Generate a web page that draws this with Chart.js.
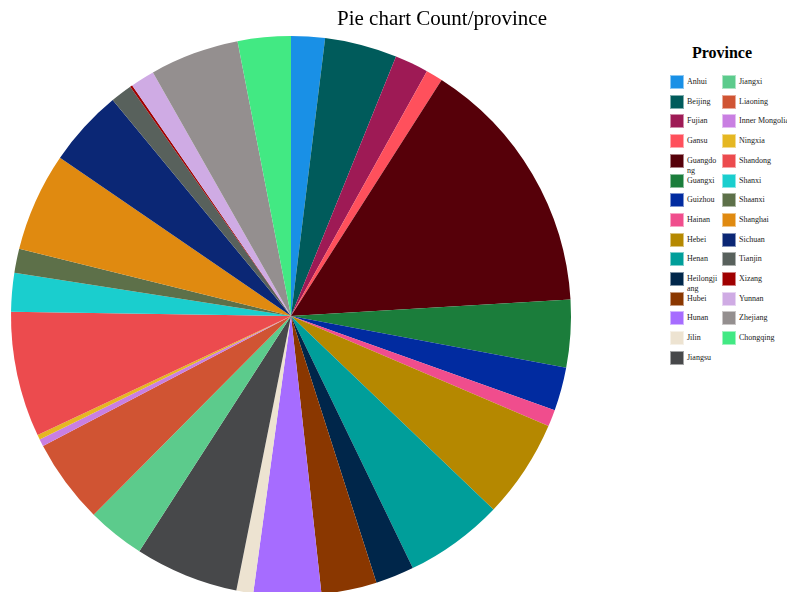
<!DOCTYPE html>
<html lang="en">
<head>
    <meta charset="UTF-8">
    <title>Pie chart Count/province</title>
    <script src="https://cdn.jsdelivr.net/npm/chart.js"></script>
    <style>
        body { margin: 0; width: 787px; height: 592px; overflow: hidden; background: #fff; position: relative; font-family: "Liberation Serif", "DejaVu Serif", serif; }
        #pieChart { position: absolute; left: 0; top: 0; }
        #title { position: absolute; left: 337px; top: 6px; font-size: 21px; color: #000; white-space: nowrap; }
        #legendTitle { position: absolute; left: 662px; width: 120px; top: 44px; text-align: center; font-size: 16px; font-weight: bold; }
        .box { position: absolute; width: 14px; height: 14px; box-sizing: border-box; border: 1px solid rgba(255,255,255,0.5); }
        .lbl { position: absolute; font-size: 8px; line-height: 10px; color: #222; }
    </style>
</head>
<body>
    <canvas id="pieChart" width="582" height="632"></canvas>
    <div id="title">Pie chart Count/province</div>
    <div id="legendTitle">Province</div>
    <div id="legend"></div>

    <script>
        // provinces in drawing order (clockwise from 12 o'clock)
        const provinces = ['Anhui', 'Beijing', 'Fujian', 'Gansu', 'Guangdong', 'Guangxi', 'Guizhou', 'Hainan',
            'Hebei', 'Henan', 'Heilongjiang', 'Hubei', 'Hunan', 'Jilin', 'Jiangsu', 'Jiangxi', 'Liaoning',
            'Inner Mongolia', 'Ningxia', 'Shandong', 'Shanxi', 'Shaanxi', 'Shanghai', 'Sichuan', 'Tianjin',
            'Xizang', 'Yunnan', 'Zhejiang', 'Chongqing'];
        const counts = [14, 30, 14, 7, 108, 28, 18, 7,
            41, 41, 16, 23, 28, 7, 43, 24, 35,
            3, 2, 52, 16, 10, 41, 32, 9,
            1, 10, 37, 22];
        const colors = ['#1990e6', '#005b5b', '#9e1a55', '#ff505c', '#560009', '#1b7d3b', '#012ba0', '#f04d8d',
            '#b58800', '#009e9a', '#00264a', '#8a3700', '#a66cff', '#ede3d1', '#47484a', '#5ccb8c', '#d05433',
            '#c97fe2', '#e5b722', '#ec4b4e', '#1acece', '#5d7049', '#e08a10', '#0b2775', '#58615c',
            '#a00000', '#cfabe4', '#948f8f', '#42e983'];

        new Chart(document.getElementById('pieChart'), {
            type: 'pie',
            data: {
                labels: provinces,
                datasets: [{
                    data: counts,
                    backgroundColor: colors,
                    borderWidth: 0
                }]
            },
            options: {
                responsive: false,
                animation: false,
                layout: { padding: { left: 11, right: 11, top: 36, bottom: 36 } },
                plugins: {
                    legend: { display: false },
                    title: { display: false },
                    tooltip: { enabled: false }
                }
            }
        });

        // legend in two columns, column 1 holds the first 15
        const legend = document.getElementById('legend');
        provinces.forEach((name, i) => {
            const col = i < 15 ? 0 : 1;
            const row = col === 0 ? i : i - 15;
            const top = 75 + row * 19.7;
            const bx = col === 0 ? 670 : 722;
            const box = document.createElement('div');
            box.className = 'box';
            box.style.left = bx + 'px';
            box.style.top = top + 'px';
            box.style.background = colors[i];
            legend.appendChild(box);
            const lbl = document.createElement('div');
            lbl.className = 'lbl';
            lbl.textContent = name;
            lbl.style.left = (bx + 17) + 'px';
            lbl.style.top = (top + 2) + 'px';
            if (col === 0) {
                lbl.style.width = '32px';
                lbl.style.wordBreak = 'break-all';
            } else {
                lbl.style.whiteSpace = 'nowrap';
            }
            legend.appendChild(lbl);
        });
    </script>
</body>
</html>
